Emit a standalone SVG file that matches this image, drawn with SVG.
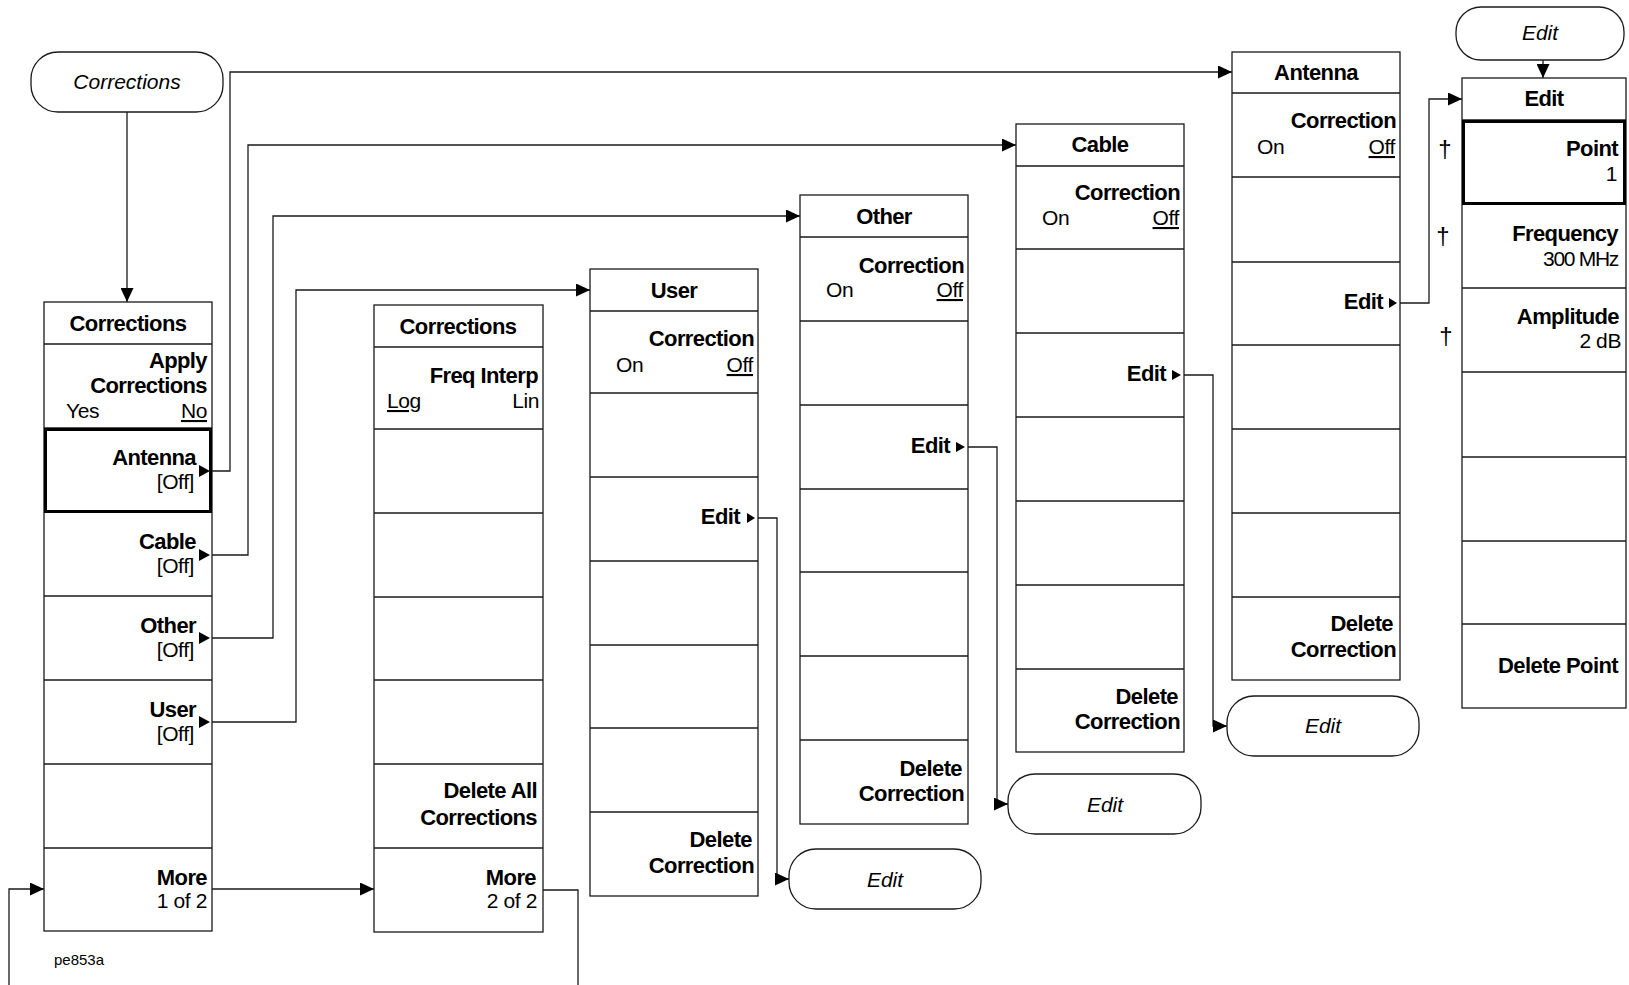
<svg xmlns="http://www.w3.org/2000/svg" width="1629" height="985" viewBox="0 0 1629 985">
<style>
.box{fill:#fff;stroke:#1a1a1a;stroke-width:1.3}
.sep{stroke:#1a1a1a;stroke-width:1.3}
.thick{fill:none;stroke:#000;stroke-width:3}
.oval{fill:#fff;stroke:#1a1a1a;stroke-width:1.3}
.con{fill:none;stroke:#1a1a1a;stroke-width:1.3}
.tri{fill:#000}
text{font-family:"Liberation Sans",Arial,sans-serif;fill:#000}
.t{font-size:22px;font-weight:bold;text-anchor:middle;letter-spacing:-0.6px}
.b{font-size:22px;font-weight:bold;text-anchor:end;letter-spacing:-0.6px}
.n{font-size:21px;text-anchor:end;letter-spacing:-0.4px}
.ns{font-size:21px;text-anchor:start;letter-spacing:-0.4px}
.u{text-decoration:underline}
.i{font-size:21px;font-style:italic;text-anchor:middle}
.dg{font-size:24px;text-anchor:middle}
</style>
<defs>
<marker id="ah" markerWidth="14" markerHeight="13" refX="14" refY="6.5" orient="auto" markerUnits="userSpaceOnUse">
<path d="M0,0 L14,6.5 L0,13 z" fill="#000"/>
</marker>
</defs>

<g id="connectors">
<path class="con" d="M127,112 V302" marker-end="url(#ah)"/>
<path class="con" d="M212,471 H230 V72 H1232" marker-end="url(#ah)"/>
<path class="con" d="M212,555 H248 V145 H1016" marker-end="url(#ah)"/>
<path class="con" d="M212,638 H273 V216 H800" marker-end="url(#ah)"/>
<path class="con" d="M212,722 H296 V290 H590" marker-end="url(#ah)"/>
<path class="con" d="M212,889 H374" marker-end="url(#ah)"/>
<path class="con" d="M543,890 H578 V985"/>
<path class="con" d="M9,985 V889 H44" marker-end="url(#ah)"/>
<path class="con" d="M758,518 H777 V879 H789" marker-end="url(#ah)"/>
<path class="con" d="M968,447 H997 V804 H1008" marker-end="url(#ah)"/>
<path class="con" d="M1184,375 H1213 V726 H1227" marker-end="url(#ah)"/>
<path class="con" d="M1400,303 H1429 V99 H1462" marker-end="url(#ah)"/>
<path class="con" d="M1543,60 V78" marker-end="url(#ah)"/>
</g>

<g id="oval-corrections">
<rect class="oval" x="31" y="52" width="192" height="60" rx="27"/>
<text class="i" x="127" y="89">Corrections</text>
</g>

<g id="menu-corrections-1">
<rect class="box" x="44" y="302" width="168" height="629"/>
<path class="sep" d="M44,344 H212 M44,428 H212 M44,512 H212 M44,596 H212 M44,680 H212 M44,764 H212 M44,848 H212"/>
<rect class="thick" x="45.5" y="429.5" width="165" height="82"/>
<text class="t" x="128" y="331">Corrections</text>
<text class="b" x="207" y="368">Apply</text>
<text class="b" x="207" y="393">Corrections</text>
<text class="ns" x="66" y="418">Yes</text>
<text class="n u" x="207" y="418">No</text>
<text class="b" x="196" y="465">Antenna</text>
<text class="n" x="194" y="489">[Off]</text>
<polygon class="tri" points="199,465 210,471 199,477"/>
<text class="b" x="196" y="549">Cable</text>
<text class="n" x="194" y="573">[Off]</text>
<polygon class="tri" points="199,549 210,555 199,561"/>
<text class="b" x="196" y="633">Other</text>
<text class="n" x="194" y="657">[Off]</text>
<polygon class="tri" points="199,632 210,638 199,644"/>
<text class="b" x="196" y="717">User</text>
<text class="n" x="194" y="741">[Off]</text>
<polygon class="tri" points="199,716 210,722 199,728"/>
<text class="b" x="207" y="885">More</text>
<text class="n" x="207" y="908">1 of 2</text>
</g>

<g id="menu-corrections-2">
<rect class="box" x="374" y="305" width="169" height="627"/>
<path class="sep" d="M374,347 H543 M374,429 H543 M374,513 H543 M374,597 H543 M374,680 H543 M374,764 H543 M374,848 H543"/>
<text class="t" x="458" y="334">Corrections</text>
<text class="b" x="538" y="383">Freq Interp</text>
<text class="ns u" x="387" y="408">Log</text>
<text class="n" x="539" y="408">Lin</text>
<text class="b" x="537" y="798">Delete All</text>
<text class="b" x="537" y="825">Corrections</text>
<text class="b" x="536" y="885">More</text>
<text class="n" x="537" y="908">2 of 2</text>
</g>

<g id="menu-user">
<rect class="box" x="590" y="269" width="168" height="627"/>
<path class="sep" d="M590,311 H758 M590,393 H758 M590,477 H758 M590,561 H758 M590,645 H758 M590,728 H758 M590,812 H758"/>
<text class="t" x="674" y="298">User</text>
<text class="b" x="754" y="346">Correction</text>
<text class="ns" x="616" y="372">On</text>
<text class="n u" x="753" y="372">Off</text>
<text class="b" x="740" y="524">Edit</text>
<polygon class="tri" points="747,513 755,518 747,523"/>
<text class="b" x="752" y="847">Delete</text>
<text class="b" x="754" y="873">Correction</text>
</g>

<g id="menu-other">
<rect class="box" x="800" y="195" width="168" height="629"/>
<path class="sep" d="M800,237 H968 M800,321 H968 M800,405 H968 M800,489 H968 M800,572 H968 M800,656 H968 M800,740 H968"/>
<text class="t" x="884" y="224">Other</text>
<text class="b" x="964" y="273">Correction</text>
<text class="ns" x="826" y="297">On</text>
<text class="n u" x="963" y="297">Off</text>
<text class="b" x="950" y="453">Edit</text>
<polygon class="tri" points="956,442 965,447 956,452"/>
<text class="b" x="962" y="776">Delete</text>
<text class="b" x="964" y="801">Correction</text>
</g>

<g id="menu-cable">
<rect class="box" x="1016" y="124" width="168" height="628"/>
<path class="sep" d="M1016,166 H1184 M1016,249 H1184 M1016,333 H1184 M1016,417 H1184 M1016,501 H1184 M1016,585 H1184 M1016,669 H1184"/>
<text class="t" x="1100" y="152">Cable</text>
<text class="b" x="1180" y="200">Correction</text>
<text class="ns" x="1042" y="225">On</text>
<text class="n u" x="1179" y="225">Off</text>
<text class="b" x="1166" y="381">Edit</text>
<polygon class="tri" points="1172,370 1181,375 1172,380"/>
<text class="b" x="1178" y="704">Delete</text>
<text class="b" x="1180" y="729">Correction</text>
</g>

<g id="menu-antenna">
<rect class="box" x="1232" y="52" width="168" height="628"/>
<path class="sep" d="M1232,93 H1400 M1232,177 H1400 M1232,262 H1400 M1232,345 H1400 M1232,429 H1400 M1232,513 H1400 M1232,597 H1400"/>
<text class="t" x="1316" y="80">Antenna</text>
<text class="b" x="1396" y="128">Correction</text>
<text class="ns" x="1257" y="154">On</text>
<text class="n u" x="1395" y="154">Off</text>
<text class="b" x="1383" y="309">Edit</text>
<polygon class="tri" points="1389,298 1397,303 1389,308"/>
<text class="b" x="1393" y="631">Delete</text>
<text class="b" x="1396" y="657">Correction</text>
</g>

<g id="oval-edit-top">
<rect class="oval" x="1456" y="7" width="168" height="53" rx="25"/>
<text class="i" x="1540" y="40">Edit</text>
</g>

<g id="menu-edit">
<rect class="box" x="1462" y="78" width="164" height="630"/>
<path class="sep" d="M1462,120 H1626 M1462,204 H1626 M1462,288 H1626 M1462,372 H1626 M1462,457 H1626 M1462,541 H1626 M1462,624 H1626"/>
<rect class="thick" x="1463.5" y="121.5" width="161" height="82"/>
<text class="t" x="1544" y="106">Edit</text>
<text class="b" x="1618" y="156">Point</text>
<text class="n" x="1617" y="181">1</text>
<text class="b" x="1618" y="241">Frequency</text>
<text class="n" x="1618" y="266" style="letter-spacing:-1.3px">300 MHz</text>
<text class="b" x="1619" y="324">Amplitude</text>
<text class="n" x="1621" y="348">2 dB</text>
<text class="b" x="1618" y="673">Delete Point</text>
<text class="dg" x="1445" y="157">†</text>
<text class="dg" x="1443" y="244">†</text>
<text class="dg" x="1446" y="344">†</text>
</g>

<g id="oval-edit-user">
<rect class="oval" x="789" y="849" width="192" height="60" rx="27"/>
<text class="i" x="885" y="887">Edit</text>
</g>

<g id="oval-edit-other">
<rect class="oval" x="1008" y="774" width="193" height="60" rx="27"/>
<text class="i" x="1105" y="812">Edit</text>
</g>

<g id="oval-edit-cable">
<rect class="oval" x="1227" y="696" width="192" height="60" rx="27"/>
<text class="i" x="1323" y="733">Edit</text>
</g>

<text x="54" y="965" style="font-size:15px">pe853a</text>
</svg>
